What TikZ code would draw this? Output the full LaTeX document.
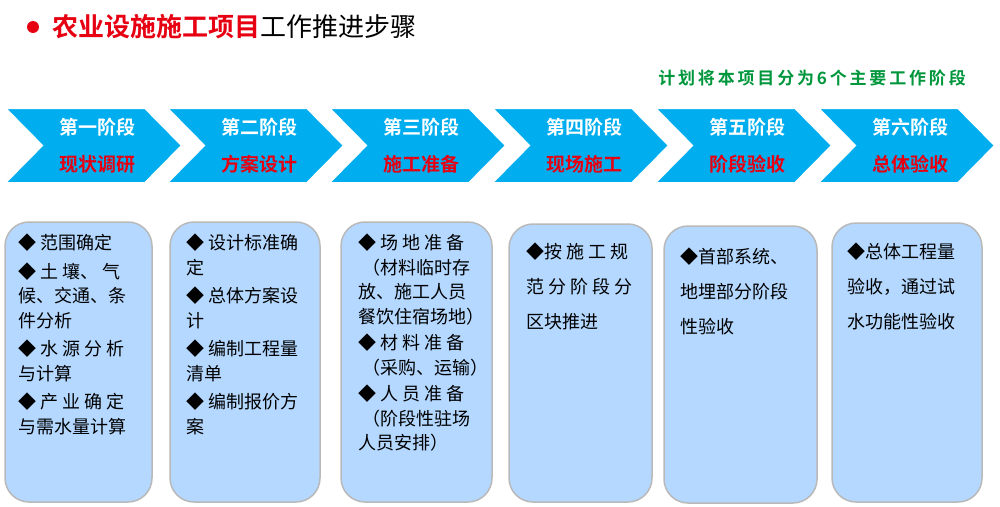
\documentclass[tikz,border=0pt]{standalone}
\usepackage{fontspec}
\newfontfamily\cjk{Noto Sans CJK SC}
\newfontfamily\cjkb{Noto Sans CJK SC Bold}
\definecolor{chev}{RGB}{0,174,239}
\definecolor{boxfill}{RGB}{180,216,255}
\definecolor{boxline}{RGB}{185,185,185}
\definecolor{tred}{RGB}{230,0,18}
\definecolor{tgreen}{RGB}{0,150,60}
\tikzset{
  chevron/.style={fill=chev,draw=white,line width=2pt},
  stagetop/.style={font=\cjkb\fontsize{19}{19}\selectfont,text=white},
  stagebot/.style={font=\cjkb\fontsize{19}{19}\selectfont,text=tred},
  stepbox/.style={fill=boxfill,draw=boxline,line width=1.5pt,rounded corners=24pt},
  boxtext/.style={font=\cjk\fontsize{18}{24.5}\selectfont,align=left,anchor=north west,inner sep=0pt},
  boxtextw/.style={font=\cjk\fontsize{18}{35}\selectfont,align=left,anchor=north west,inner sep=0pt}
}
\begin{document}
\begin{tikzpicture}[x=1pt,y=-1pt]
\useasboundingbox (0,0) rectangle (1000,506);
% title
\fill[tred] (33,27) circle (6);
\node[anchor=west,inner sep=0pt,font=\fontsize{26}{26}\selectfont] (title) at (52,27) {\textcolor{tred}{\cjkb 农业设施施工项目}{\cjk 工作推进步骤}};
\node[anchor=east,inner sep=0pt,font=\cjkb\fontsize{17}{17}\selectfont,text=tgreen] (plan) at (966,78) {计\,划\,将\,本\,项\,目\,分\,为\,6\,个\,主\,要\,工\,作\,阶\,段};
% chevrons
\foreach \i/\c/\a/\b in {1/97/第一阶段/现状调研,2/259/第二阶段/方案设计,3/421/第三阶段/施工准备,4/584/第四阶段/现场施工,5/747/第五阶段/阶段验收,6/910/第六阶段/总体验收}{
  \fill[chevron] (\c-92,108) -- (\c+48,108) -- (\c+85,145.5) -- (\c+48,183) -- (\c-92,183) -- (\c-55,145.5) -- cycle;
  \node[stagetop] (st\i) at (\c,127) {\a};
  \node[stagebot] (sb\i) at (\c,164) {\b};
}
% boxes
\draw[stepbox] (5,222) rectangle (152,502);
\draw[stepbox] (170,222) rectangle (320,502);
\draw[stepbox] (341,222) rectangle (492,502);
\draw[stepbox] (509,224) rectangle (652,502);
\draw[stepbox] (664,226) rectangle (817,503);
\draw[stepbox] (832,223) rectangle (982,502);
\node[boxtext] (t1) at (18,234) {◆ 范围确定\\[4pt]◆ 土 壤、 气\\候、交通、条\\件分析\\[4pt]◆ 水 源 分 析\\与计算\\[4pt]◆ 产 业 确 定\\与需水量计算};
\node[boxtext] (t2) at (186,234) {◆ 设计标准确\\定\\[4pt]◆ 总体方案设\\计\\[4pt]◆ 编制工程量\\清单\\[4pt]◆ 编制报价方\\案};
\node[boxtext] (t3) at (358,234) {◆ 场 地 准 备\\\ （材料临时存\\放、施工人员\\餐饮住宿场地）\\[2pt]◆ 材 料 准 备\\\ （采购、运输）\\[2pt]◆ 人 员 准 备\\\ （阶段性驻场\\人员安排）};
\node[boxtextw] (t4) at (526,243) {◆按 施 工 规\\范 分 阶 段 分\\区块推进};
\node[boxtextw] (t5) at (680,248) {◆首部系统、\\地埋部分阶段\\性验收};
\node[boxtextw] (t6) at (847,243) {◆总体工程量\\验收，通过试\\水功能性验收};
\end{tikzpicture}
\end{document}
